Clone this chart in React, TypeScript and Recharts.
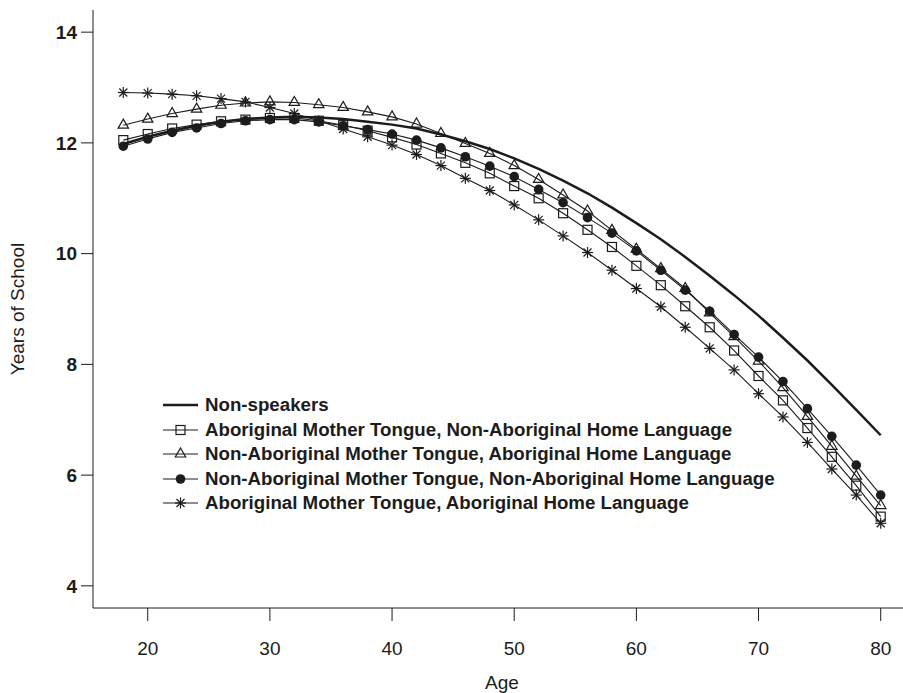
import React from "react";
import { LineChart, Line, XAxis, YAxis, Legend } from "recharts";

const INK = "#1c1c1c";
const FONT = "'Liberation Sans', Arial, Helvetica, sans-serif";

const ages = [
  18, 20, 22, 24, 26, 28, 30, 32, 34, 36, 38, 40, 42, 44, 46, 48,
  50, 52, 54, 56, 58, 60, 62, 64, 66, 68, 70, 72, 74, 76, 78, 80,
];

const nonSpeakers = [
  11.98, 12.11, 12.22, 12.31, 12.38, 12.43, 12.46, 12.47, 12.46, 12.43, 12.38, 12.33, 12.26, 12.15, 12.03, 11.89,
  11.72, 11.53, 11.32, 11.09, 10.83, 10.55, 10.26, 9.94, 9.6, 9.25, 8.88, 8.48, 8.07, 7.63, 7.18, 6.72,
];

const amtNonAbHome = [
  12.05, 12.16, 12.26, 12.33, 12.39, 12.42, 12.45, 12.45, 12.4, 12.32, 12.22, 12.1, 11.97, 11.81, 11.64, 11.45,
  11.22, 11.0, 10.73, 10.43, 10.12, 9.78, 9.43, 9.05, 8.67, 8.25, 7.79, 7.35, 6.85, 6.33, 5.81, 5.25,
];

const namtAbHome = [
  12.32, 12.43, 12.53, 12.61, 12.68, 12.72, 12.74, 12.73, 12.69, 12.64, 12.56, 12.47, 12.34, 12.17, 11.99, 11.81,
  11.59, 11.34, 11.06, 10.77, 10.42, 10.08, 9.73, 9.37, 8.93, 8.5, 8.06, 7.58, 7.06, 6.52, 5.98, 5.45,
];

const namtNonAbHome = [
  11.94, 12.07, 12.19, 12.27, 12.35, 12.4, 12.42, 12.42, 12.38, 12.31, 12.24, 12.16, 12.05, 11.91, 11.75, 11.58,
  11.39, 11.16, 10.92, 10.65, 10.37, 10.05, 9.7, 9.34, 8.96, 8.54, 8.13, 7.69, 7.2, 6.7, 6.18, 5.64,
];

const amtAbHome = [
  12.91, 12.9, 12.88, 12.85, 12.8, 12.74, 12.64, 12.53, 12.4, 12.25, 12.11, 11.96, 11.79, 11.59, 11.36, 11.14,
  10.88, 10.61, 10.32, 10.02, 9.7, 9.37, 9.04, 8.67, 8.29, 7.9, 7.47, 7.05, 6.59, 6.11, 5.64, 5.13,
];

const xTicks = [20, 30, 40, 50, 60, 70, 80];
const yTicks = [4, 6, 8, 10, 12, 14];

const data = ages.map((age, i) => ({
  age,
  ns: nonSpeakers[i],
  sq: amtNonAbHome[i],
  tri: namtAbHome[i],
  dot: namtNonAbHome[i],
  star: amtAbHome[i],
}));

type Mark = "none" | "square" | "triangle" | "circle" | "star";

// plotting symbols, roughly R's pch 0, 2, 16 and 8
function Symbol({ kind, cx, cy }: { kind: Mark; cx: number; cy: number }) {
  if (kind === "square")
    return <rect x={cx - 4.5} y={cy - 4.5} width={9} height={9} fill="none" stroke={INK} strokeWidth={1.2} />;
  if (kind === "triangle")
    return (
      <polygon
        points={`${cx},${cy - 6} ${cx + 5.2},${cy + 3} ${cx - 5.2},${cy + 3}`}
        fill="none"
        stroke={INK}
        strokeWidth={1.2}
      />
    );
  if (kind === "circle") return <circle cx={cx} cy={cy} r={4.8} fill={INK} />;
  if (kind === "star")
    return (
      <g stroke={INK} strokeWidth={1.2}>
        <line x1={cx - 5.5} y1={cy} x2={cx + 5.5} y2={cy} />
        <line x1={cx} y1={cy - 5.5} x2={cx} y2={cy + 5.5} />
        <line x1={cx - 4} y1={cy - 4} x2={cx + 4} y2={cy + 4} />
        <line x1={cx - 4} y1={cy + 4} x2={cx + 4} y2={cy - 4} />
      </g>
    );
  return null;
}

const series: { key: string; name: string; mark: Mark }[] = [
  { key: "ns", name: "Non-speakers", mark: "none" },
  { key: "sq", name: "Aboriginal Mother Tongue, Non-Aboriginal Home Language", mark: "square" },
  { key: "tri", name: "Non-Aboriginal Mother Tongue, Aboriginal Home Language", mark: "triangle" },
  { key: "dot", name: "Non-Aboriginal Mother Tongue, Non-Aboriginal Home Language", mark: "circle" },
  { key: "star", name: "Aboriginal Mother Tongue, Aboriginal Home Language", mark: "star" },
];

const LegendBox = () => (
  <div style={{ fontFamily: FONT, fontSize: 18.7, fontWeight: "bold", color: INK }}>
    {series.map((s) => (
      <div key={s.key} style={{ display: "flex", alignItems: "center", height: 24.5, whiteSpace: "nowrap" }}>
        <svg width={40} height={20} style={{ marginRight: 4 }}>
          <line x1={2} y1={10} x2={37} y2={10} stroke={INK} strokeWidth={s.mark === "none" ? 2.5 : 1.2} />
          <Symbol kind={s.mark} cx={19.5} cy={10} />
        </svg>
        <span>{s.name}</span>
      </div>
    ))}
  </div>
);

export default function App() {
  return (
    <div
      style={{
        position: "fixed",
        left: 0,
        top: 0,
        width: 903,
        height: 693,
        overflow: "hidden",
        background: "#fff",
        fontFamily: FONT,
      }}
    >
      <LineChart width={930} height={693} data={data} margin={{ top: 10, right: 19, bottom: 0, left: 0 }}>
        <XAxis
          dataKey="age"
          type="number"
          domain={[15.52, 82.48]}
          ticks={xTicks}
          allowDataOverflow
          height={85}
          tickSize={13}
          tickMargin={21}
          stroke={INK}
          tick={{ fontSize: 19, fill: INK, fontFamily: FONT }}
          label={{
            content: ({ viewBox }: any) => (
              <text
                x={viewBox.x + viewBox.width / 2}
                y={689}
                textAnchor="middle"
                fontSize={19}
                fill={INK}
                fontFamily={FONT}
              >
                Age
              </text>
            ),
          }}
        />
        <XAxis xAxisId="top" orientation="top" dataKey="age" type="number" domain={[15.52, 82.48]} height={0} tick={false} tickLine={false} stroke={INK} />
        <YAxis
          type="number"
          domain={[3.6, 14.4]}
          ticks={yTicks}
          allowDataOverflow
          width={93}
          tickSize={12}
          tickMargin={4}
          stroke={INK}
          tick={{ fontSize: 19, fill: INK, fontFamily: FONT, fontWeight: "bold" }}
          label={{
            content: ({ viewBox }: any) => {
              const x = viewBox.x + 24;
              const y = viewBox.y + viewBox.height / 2;
              return (
                <text
                  x={x}
                  y={y}
                  transform={`rotate(-90 ${x} ${y})`}
                  textAnchor="middle"
                  fontSize={19}
                  fill={INK}
                  fontFamily={FONT}
                >
                  Years of School
                </text>
              );
            },
          }}
        />
        <Legend
          layout="vertical"
          align="center"
          verticalAlign="middle"
          content={<LegendBox />}
          wrapperStyle={{ left: 161, top: 393, width: 720 }}
        />
        {series.map((s) => (
          <Line
            key={s.key}
            dataKey={s.key}
            name={s.name}
            type="linear"
            stroke={INK}
            strokeWidth={s.mark === "none" ? 2.5 : 1.1}
            isAnimationActive={false}
            dot={
              s.mark === "none"
                ? false
                : (p: any) => <Symbol key={`${s.key}-${p.index}`} kind={s.mark} cx={p.cx} cy={p.cy} />
            }
            activeDot={false}
          />
        ))}
      </LineChart>
    </div>
  );
}
